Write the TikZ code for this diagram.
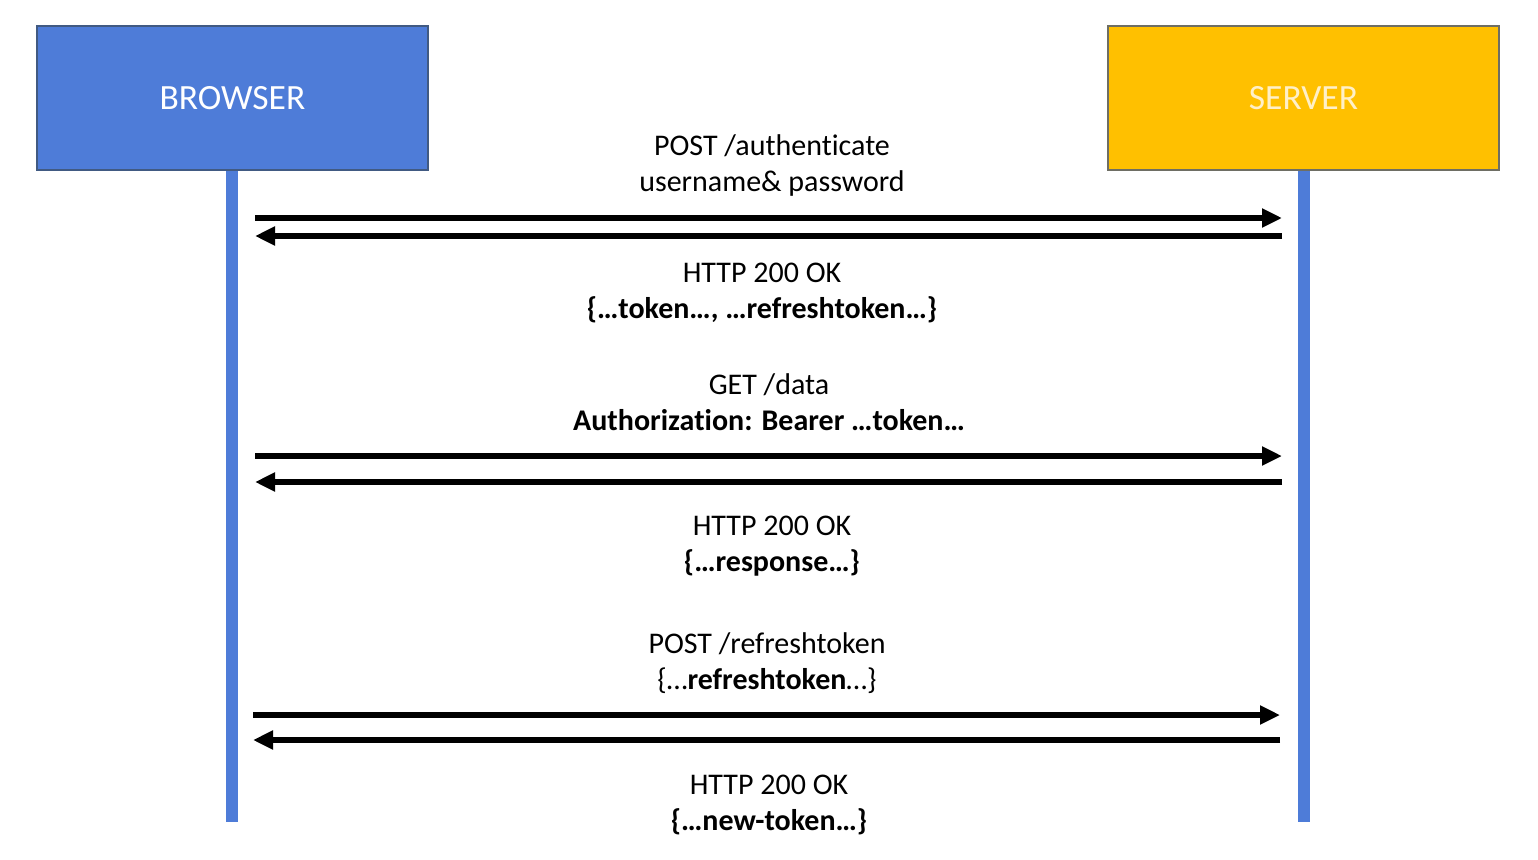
\documentclass[tikz,border=0pt]{standalone}
\usepackage{fontspec}
\setmainfont[Ligatures=NoCommon]{Carlito}
\usetikzlibrary{arrows.meta}
\definecolor{bblue}{RGB}{78,124,216}
\definecolor{bborder}{RGB}{65,90,130}
\definecolor{sgold}{RGB}{255,192,0}
\definecolor{sborder}{RGB}{110,110,100}
\definecolor{stext}{RGB}{255,240,200}
\begin{document}
\begin{tikzpicture}[x=1pt,y=-1pt,
  actor/.style={minimum width=391pt,minimum height=144pt,inner sep=0pt,line width=1.5pt,font=\fontsize{35.5}{40}\selectfont},
  lifeline/.style={draw=bblue,line width=12pt},
  msg/.style={line width=6pt,-{Triangle[length=20pt,width=18pt]}},
  lbl/.style={align=center,inner sep=0pt,font=\fontsize{30}{36}\selectfont}]
\useasboundingbox (0,0) rectangle (1538,859);
\node[actor,fill=bblue,draw=bborder,text=white] (browser) at (232.5,98) {BROWSER};
\node[actor,fill=sgold,draw=sborder,text=stext] (server) at (1303.5,98) {SERVER};
\coordinate (bend) at (232,822);
\coordinate (send) at (1304,822);
\draw[lifeline] (browser.south -| bend) -- (bend);
\draw[lifeline] (server.south -| send) -- (send);
% message coordinates
\coordinate (b1) at (255,218); \coordinate (s1) at (1282,218);
\coordinate (b2) at (255,236); \coordinate (s2) at (1282,236);
\coordinate (b3) at (255,456); \coordinate (s3) at (1282,456);
\coordinate (b4) at (255,482); \coordinate (s4) at (1282,482);
\coordinate (b5) at (253,715); \coordinate (s5) at (1280,715);
\coordinate (b6) at (253,740); \coordinate (s6) at (1280,740);
\draw[msg] (b1) -- (s1);
\draw[msg] (s2) -- (b2);
\draw[msg] (b3) -- (s3);
\draw[msg] (s4) -- (b4);
\draw[msg] (b5) -- (s5);
\draw[msg] (s6) -- (b6);
\node[lbl] (m1) at (772,166) {POST /authenticate\\username\& password};
\node[lbl] (m2) at (762,293) {HTTP 200 OK\\\textbf{\{…token…, …refreshtoken…\}}};
\node[lbl] (m3) at (769,402) {GET /data\\\textbf{Authorization: Bearer …token…}};
\node[lbl] (m4) at (772,546) {HTTP 200 OK\\\textbf{\{…response…\}}};
\node[lbl] (m5) at (767,663) {POST /refreshtoken\\\{…\textbf{refreshtoken}…\}};
\node[lbl] (m6) at (769,805) {HTTP 200 OK\\\textbf{\{…new-token…\}}};
\end{tikzpicture}
\end{document}
